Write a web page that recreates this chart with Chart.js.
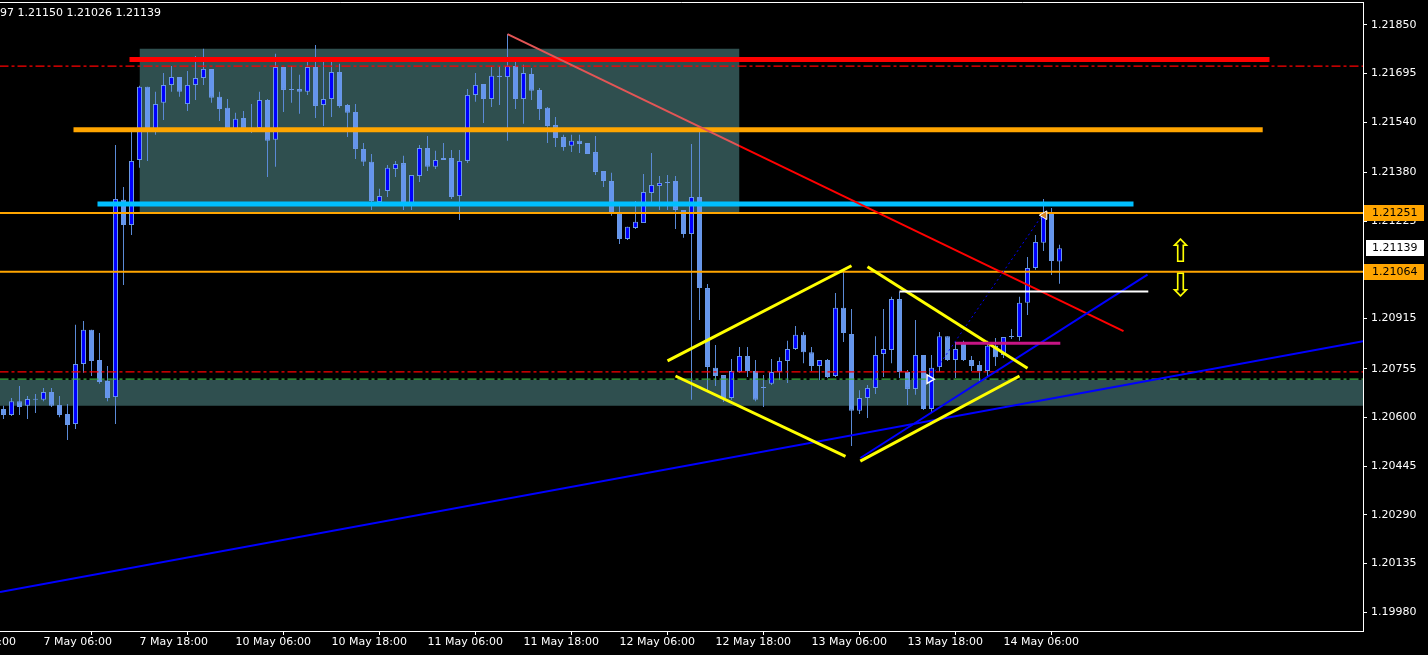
<!DOCTYPE html>
<html>
<head>
<meta charset="utf-8">
<script src="https://cdn.jsdelivr.net/npm/chart.js@4.4.1/dist/chart.umd.min.js"></script>
<style>
  html, body { margin: 0; padding: 0; background: #000; }
  canvas { display: block; }
</style>
</head>
<body>
<canvas id="chartCanva" width="1428" height="655"></canvas>
<script>
// EURUSD H1 candles, bar 0 = 7 May 01:00, last bar = 14 May 13:00
const openPrices = [
  1.20627, 1.20608, 1.20652, 1.20637, 1.20659, 1.20656, 1.20681, 1.20640, 1.20611, 1.20579,
  1.20770, 1.20879, 1.20783, 1.20716, 1.20665, 1.21293, 1.21213, 1.21420, 1.21653, 1.21516,
  1.21602, 1.21659, 1.21684, 1.21598, 1.21659, 1.21681, 1.21710, 1.21621, 1.21586, 1.21519,
  1.21554, 1.21519, 1.21522, 1.21611, 1.21484, 1.21716, 1.21646, 1.21646, 1.21637, 1.21716,
  1.21595, 1.21614, 1.21700, 1.21595, 1.21573, 1.21455, 1.21414, 1.21286, 1.21321, 1.21391,
  1.21410, 1.21280, 1.21369, 1.21458, 1.21398, 1.21420, 1.21426, 1.21305, 1.21417, 1.21627,
  1.21662, 1.21614, 1.21688, 1.21684, 1.21719, 1.21614, 1.21694, 1.21643, 1.21586, 1.21531,
  1.21493, 1.21465, 1.21481, 1.21474, 1.21445, 1.21385, 1.21353, 1.21251, 1.21168, 1.21203,
  1.21219, 1.21315, 1.21337, 1.21347, 1.21353, 1.21261, 1.21184, 1.21302, 1.21012, 1.20758,
  1.20735, 1.20662, 1.20745, 1.20796, 1.20748, 1.20694, 1.20707, 1.20745, 1.20780, 1.20818,
  1.20863, 1.20808, 1.20764, 1.20783, 1.20732, 1.20949, 1.20866, 1.20621, 1.20662, 1.20694,
  1.20802, 1.20815, 1.20977, 1.20745, 1.20691, 1.20799, 1.20627, 1.20761, 1.20859, 1.20783,
  1.20837, 1.20783, 1.20767, 1.20748, 1.20828, 1.20799, 1.20856, 1.20856, 1.20965, 1.21076,
  1.21156, 1.21254, 1.21097
];
const highPrices = [
  1.20637, 1.20662, 1.20700, 1.20668, 1.20675, 1.20694, 1.20694, 1.20668, 1.20643, 1.20895,
  1.20907, 1.20879, 1.20869, 1.20764, 1.21468, 1.21334, 1.21512, 1.21656, 1.21653, 1.21637,
  1.21697, 1.21719, 1.21684, 1.21703, 1.21751, 1.21774, 1.21710, 1.21637, 1.21614, 1.21570,
  1.21576, 1.21598, 1.21637, 1.21614, 1.21758, 1.21716, 1.21719, 1.21691, 1.21748, 1.21786,
  1.21732, 1.21732, 1.21726, 1.21598, 1.21598, 1.21474, 1.21439, 1.21328, 1.21404, 1.21417,
  1.21433, 1.21372, 1.21468, 1.21496, 1.21449, 1.21474, 1.21452, 1.21452, 1.21646, 1.21697,
  1.21662, 1.21716, 1.21719, 1.21821, 1.21735, 1.21723, 1.21713, 1.21649, 1.21589, 1.21557,
  1.21500, 1.21500, 1.21500, 1.21474, 1.21496, 1.21385, 1.21379, 1.21283, 1.21207, 1.21289,
  1.21375, 1.21442, 1.21369, 1.21372, 1.21369, 1.21261, 1.21471, 1.21525, 1.21025, 1.20831,
  1.20735, 1.20786, 1.20824, 1.20824, 1.20783, 1.20735, 1.20786, 1.20792, 1.20844, 1.20891,
  1.20872, 1.20824, 1.20783, 1.20786, 1.20996, 1.21063, 1.20945, 1.20687, 1.20703, 1.20859,
  1.20945, 1.20984, 1.21000, 1.20751, 1.20910, 1.20799, 1.20799, 1.20872, 1.20859, 1.20840,
  1.20844, 1.20796, 1.20780, 1.20844, 1.20853, 1.20856, 1.20882, 1.20984, 1.21111, 1.21181,
  1.21296, 1.21267, 1.21150
];
const lowPrices = [
  1.20595, 1.20605, 1.20608, 1.20595, 1.20614, 1.20652, 1.20633, 1.20601, 1.20528, 1.20563,
  1.20742, 1.20732, 1.20707, 1.20652, 1.20579, 1.21022, 1.21181, 1.21395, 1.21417, 1.21500,
  1.21547, 1.21637, 1.21621, 1.21576, 1.21611, 1.21659, 1.21602, 1.21544, 1.21512, 1.21512,
  1.21519, 1.21506, 1.21516, 1.21366, 1.21398, 1.21573, 1.21602, 1.21567, 1.21627, 1.21554,
  1.21528, 1.21557, 1.21586, 1.21493, 1.21423, 1.21401, 1.21261, 1.21283, 1.21302, 1.21366,
  1.21261, 1.21261, 1.21350, 1.21385, 1.21391, 1.21420, 1.21296, 1.21229, 1.21410, 1.21605,
  1.21538, 1.21589, 1.21595, 1.21481, 1.21582, 1.21535, 1.21611, 1.21547, 1.21474, 1.21461,
  1.21449, 1.21445, 1.21442, 1.21439, 1.21372, 1.21334, 1.21242, 1.21152, 1.21165, 1.21200,
  1.21219, 1.21283, 1.21261, 1.21261, 1.21200, 1.21172, 1.20656, 1.20910, 1.20687, 1.20700,
  1.20649, 1.20656, 1.20742, 1.20729, 1.20652, 1.20633, 1.20703, 1.20719, 1.20710, 1.20815,
  1.20773, 1.20748, 1.20719, 1.20726, 1.20729, 1.20840, 1.20509, 1.20611, 1.20598, 1.20675,
  1.20729, 1.20773, 1.20726, 1.20640, 1.20672, 1.20624, 1.20617, 1.20745, 1.20780, 1.20726,
  1.20780, 1.20748, 1.20710, 1.20729, 1.20764, 1.20789, 1.20850, 1.20844, 1.20926, 1.21070,
  1.21130, 1.21054, 1.21026
];
const closePrices = [
  1.20608, 1.20652, 1.20633, 1.20659, 1.20656, 1.20681, 1.20637, 1.20608, 1.20576, 1.20770,
  1.20879, 1.20780, 1.20713, 1.20662, 1.21296, 1.21213, 1.21417, 1.21653, 1.21516, 1.21598,
  1.21659, 1.21684, 1.21637, 1.21659, 1.21681, 1.21710, 1.21618, 1.21582, 1.21519, 1.21551,
  1.21519, 1.21522, 1.21611, 1.21481, 1.21716, 1.21643, 1.21643, 1.21637, 1.21716, 1.21592,
  1.21614, 1.21700, 1.21592, 1.21570, 1.21455, 1.21414, 1.21289, 1.21305, 1.21395, 1.21407,
  1.21280, 1.21372, 1.21458, 1.21398, 1.21420, 1.21426, 1.21302, 1.21417, 1.21627, 1.21659,
  1.21614, 1.21688, 1.21684, 1.21719, 1.21614, 1.21697, 1.21640, 1.21582, 1.21528, 1.21490,
  1.21461, 1.21481, 1.21471, 1.21439, 1.21382, 1.21353, 1.21248, 1.21168, 1.21207, 1.21223,
  1.21318, 1.21340, 1.21347, 1.21350, 1.21261, 1.21184, 1.21302, 1.21012, 1.20761, 1.20732,
  1.20662, 1.20748, 1.20796, 1.20748, 1.20656, 1.20697, 1.20745, 1.20780, 1.20818, 1.20863,
  1.20808, 1.20764, 1.20783, 1.20729, 1.20949, 1.20869, 1.20621, 1.20662, 1.20694, 1.20799,
  1.20818, 1.20977, 1.20745, 1.20691, 1.20799, 1.20627, 1.20758, 1.20859, 1.20783, 1.20818,
  1.20783, 1.20764, 1.20748, 1.20828, 1.20792, 1.20856, 1.20859, 1.20965, 1.21076, 1.21159,
  1.21254, 1.21098, 1.21139
];

// axis ticks
const xTickBars = [-7, 5, 17, 29, 41, 53, 65, 77, 89, 101, 113, 125];
const xTickLabels = ["6 May 18:00", "7 May 06:00", "7 May 18:00", "10 May 06:00", "10 May 18:00",
  "11 May 06:00", "11 May 18:00", "12 May 06:00", "12 May 18:00", "13 May 06:00",
  "13 May 18:00", "14 May 06:00"];
const yTickValues = [1.21850, 1.21695, 1.21540, 1.21380, 1.21225, 1.21070, 1.20915,
  1.20755, 1.20600, 1.20445, 1.20290, 1.20135, 1.19980];

// drawn objects: bar index range and prices
const topBoxBars = [17, 92];
const topBoxPrices = [1.21774, 1.21254];
const bottomBoxBars = [-5, 175];
const bottomBoxPrices = [1.20719, 1.20637];
const redLevelBars = [15.75, 158.25];
const redLevelPrice = 1.21740;
const orangeLevelBars = [8.75, 157.4];
const orangeLevelPrice = 1.21516;
const cyanLevelBars = [11.75, 141.25];
const cyanLevelPrice = 1.21280;
const dashDotPrices = [1.21719, 1.20745];
const greenDashPrice = 1.20722;
const orangeLinePrices = [1.21251, 1.21064];
const redTrendBars = [63, 140];
const redTrendPrices = [1.21821, 1.20875];
const blueLongBars = [-0.4375, 169.94];
const blueLongPrices = [1.20044, 1.20843];
const blueShortBars = [107.1, 143];
const blueShortPrices = [1.20471, 1.21055];
const blueDotBars = [115.7, 130];
const blueDotPrices = [1.20721, 1.21250];
const yellowTopLeftBars = [83, 106];
const yellowTopLeftPrices = [1.20780, 1.21083];
const yellowTopRightBars = [108, 128];
const yellowTopRightPrices = [1.21080, 1.20757];
const yellowLowLeftBars = [84, 105.25];
const yellowLowLeftPrices = [1.20732, 1.20476];
const yellowLowRightBars = [107.1, 127];
const yellowLowRightPrices = [1.20461, 1.20732];
const whiteLevelBars = [112, 143.1];
const whiteLevelPrice = 1.21001;
const magentaLevelBars = [119, 132.1];
const magentaLevelPrice = 1.20836;
const markLeftTriangle = { bar: 130.1, price: 1.21244 };
const markRightArrow = { bar: 115.75, price: 1.20722 };
const arrowUp = { bar: 147.1, price: 1.21120 };
const arrowDown = { bar: 147.1, price: 1.21012 };

const bullColor = "#0000ff";
const bearColor = "#6495ed";
const wickColor = "#5a8ad6";

function segment(bars, prices, color, width, dash, order) {
    return {
        type: "line",
        data: [{ x: bars[0], y: prices[0] }, { x: bars[1], y: prices[1] }],
        borderColor: color,
        borderWidth: width,
        borderDash: dash || [],
        pointRadius: 0,
        fill: false,
        order: order,
    };
}

function box(bars, prices, color) {
    return {
        type: "line",
        data: [{ x: bars[0], y: prices[0] }, { x: bars[1], y: prices[0] }],
        borderWidth: 0,
        pointRadius: 0,
        backgroundColor: color,
        fill: { value: prices[1] },
        order: 100,
    };
}

// no extra room for labels hanging outside the plot
function noPadding(s) {
    s.paddingLeft = 0;
    s.paddingRight = 0;
    s.paddingTop = 0;
    s.paddingBottom = 0;
}

const last = closePrices.length - 1;

// frame, header text, price tags and the yellow arrows
const overlayPlugin = {
    id: "overlay",
    afterDraw(chart) {
        const { ctx, chartArea, scales } = chart;
        ctx.save();
        ctx.strokeStyle = "#ffffff";
        ctx.lineWidth = 1;
        ctx.beginPath();
        ctx.moveTo(chartArea.left, chartArea.top + 0.5);
        ctx.lineTo(chartArea.right + 0.5, chartArea.top + 0.5);
        ctx.lineTo(chartArea.right + 0.5, chartArea.bottom);
        ctx.stroke();

        ctx.font = "11px 'DejaVu Sans'";
        ctx.textBaseline = "middle";
        ctx.textAlign = "left";
        ctx.fillStyle = "#ffffff";
        const header = openPrices[last].toFixed(5).slice(-2) + " " + highPrices[last].toFixed(5) +
            " " + lowPrices[last].toFixed(5) + " " + closePrices[last].toFixed(5);
        ctx.fillText(header, 0, 13);

        // price tags on the axis
        orangeLinePrices.forEach((p) => {
            const y = Math.round(scales.y.getPixelForValue(p));
            ctx.fillStyle = "#ffa500";
            ctx.fillRect(chartArea.right + 1, y - 8, 60, 16);
            ctx.fillStyle = "#000000";
            ctx.fillText(p.toFixed(5), chartArea.right + 9, y);
        });
        const yc = Math.round(scales.y.getPixelForValue(closePrices[last]));
        ctx.fillStyle = "#ffffff";
        ctx.fillRect(chartArea.right + 3, yc - 8, 58, 16);
        ctx.fillStyle = "#000000";
        ctx.fillText(closePrices[last].toFixed(5), chartArea.right + 9, yc);

        // yellow arrows
        ctx.font = "32px 'DejaVu Sans'";
        ctx.textAlign = "center";
        ctx.fillStyle = "#ffff00";
        ctx.fillText("\u21E7", scales.x.getPixelForValue(arrowUp.bar), scales.y.getPixelForValue(arrowUp.price));
        ctx.fillText("\u21E9", scales.x.getPixelForValue(arrowDown.bar), scales.y.getPixelForValue(arrowDown.price));
        ctx.restore();
    },
};

// red trend line is lighter where it crosses the top box
function redTrendColor(context) {
    const chart = context.chart;
    if (!chart.chartArea) return "#ff0000";
    const stop = chart.scales.x.getPixelForValue(topBoxBars[1]) / chart.width;
    const g = chart.ctx.createLinearGradient(0, 0, chart.width, 0);
    g.addColorStop(0, "#e35555");
    g.addColorStop(stop, "#e35555");
    g.addColorStop(stop, "#ff0000");
    g.addColorStop(1, "#ff0000");
    return g;
}

const redTrend = segment(redTrendBars, redTrendPrices, "#ff0000", 2, null, 8);
redTrend.borderColor = redTrendColor;

new Chart(document.getElementById("chartCanva"), {
    type: "bar",
    data: {
        datasets: [
            box(topBoxBars, topBoxPrices, "#2f4f4f"),
            box(bottomBoxBars, bottomBoxPrices, "#2f4f4f"),
            {
                type: "bar",
                data: lowPrices.map((l, i) => ({ x: i, y: [l, highPrices[i]] })),
                backgroundColor: wickColor,
                barThickness: 1,
                grouped: false,
                inflateAmount: 0,
                order: 90,
            },
            {
                type: "bar",
                data: openPrices.map((o, i) => ({ x: i, y: [o, closePrices[i]] })),
                backgroundColor: openPrices.map((o, i) => (closePrices[i] > o ? bullColor : bearColor)),
                borderColor: "#6a98e6",
                borderWidth: 1,
                borderSkipped: false,
                barThickness: 5,
                minBarLength: 1,
                grouped: false,
                inflateAmount: 0,
                order: 80,
            },
            segment([-5, 175], [dashDotPrices[0], dashDotPrices[0]], "#ff0000", 1.3, [9, 3, 3, 3], 20),
            segment([-5, 175], [dashDotPrices[1], dashDotPrices[1]], "#ff0000", 1.3, [9, 3, 3, 3], 20),
            segment([-5, 175], [greenDashPrice, greenDashPrice], "#3cb043", 1.3, [9, 3, 3, 3], 20),
            segment(redLevelBars, [redLevelPrice, redLevelPrice], "#ff0000", 5, null, 12),
            segment(orangeLevelBars, [orangeLevelPrice, orangeLevelPrice], "#ffa500", 5, null, 12),
            segment(cyanLevelBars, [cyanLevelPrice, cyanLevelPrice], "#00bfff", 5, null, 12),
            segment([-5, 175], [orangeLinePrices[0], orangeLinePrices[0]], "#ffa500", 2, null, 11),
            segment([-5, 175], [orangeLinePrices[1], orangeLinePrices[1]], "#ffa500", 2, null, 11),
            redTrend,
            segment(blueLongBars, blueLongPrices, "#0000ff", 2, null, 7),
            segment(blueShortBars, blueShortPrices, "#0000ff", 2, null, 7),
            segment(blueDotBars, blueDotPrices, "#0000ff", 1, [2, 3], 7),
            segment(yellowTopLeftBars, yellowTopLeftPrices, "#ffff00", 3, null, 6),
            segment(yellowTopRightBars, yellowTopRightPrices, "#ffff00", 3, null, 6),
            segment(yellowLowLeftBars, yellowLowLeftPrices, "#ffff00", 3, null, 6),
            segment(yellowLowRightBars, yellowLowRightPrices, "#ffff00", 3, null, 6),
            segment(whiteLevelBars, [whiteLevelPrice, whiteLevelPrice], "#ffffff", 2, null, 5),
            segment(magentaLevelBars, [magentaLevelPrice, magentaLevelPrice], "#c71585", 3, null, 5),
            {
                type: "line",
                data: [{ x: markLeftTriangle.bar, y: markLeftTriangle.price }],
                showLine: false,
                pointStyle: "triangle",
                rotation: -90,
                pointRadius: 5,
                pointBackgroundColor: "#d2862a",
                pointBorderColor: "#ffffff",
                pointBorderWidth: 1,
                order: 1,
            },
            {
                type: "line",
                data: [{ x: markRightArrow.bar, y: markRightArrow.price }],
                showLine: false,
                pointStyle: "triangle",
                rotation: 90,
                pointRadius: 5,
                pointBackgroundColor: "#2040ff",
                pointBorderColor: "#ffffff",
                pointBorderWidth: 1.5,
                order: 1,
            },
        ],
    },
    options: {
        responsive: false,
        animation: false,
        events: [],
        layout: { autoPadding: false, padding: { top: 2, left: 0, right: 0, bottom: 0 } },
        plugins: { legend: { display: false }, tooltip: { enabled: false } },
        scales: {
            x: {
                type: "linear",
                offset: false,
                min: -0.4375,
                max: 169.9375,
                afterFit: (s) => { s.height = 24; noPadding(s); },
                afterBuildTicks: (s) => { s.ticks = xTickBars.map((v) => ({ value: v })); },
                grid: { drawOnChartArea: false, color: "#ffffff", tickLength: 4 },
                border: { color: "#ffffff", width: 1 },
                ticks: {
                    autoSkip: false,
                    maxRotation: 0,
                    align: "start",
                    padding: 1,
                    color: "#ffffff",
                    font: { family: "DejaVu Sans", size: 11 },
                    callback: (v, i) => xTickLabels[i],
                },
            },
            y: {
                position: "right",
                min: 1.19920,
                max: 1.21923,
                afterFit: (s) => { s.width = 65; noPadding(s); },
                afterBuildTicks: (s) => { s.ticks = yTickValues.map((v) => ({ value: v })); },
                grid: { drawOnChartArea: false, color: "#ffffff", tickLength: 4 },
                border: { color: "#ffffff", width: 1 },
                ticks: {
                    padding: 4,
                    color: "#ffffff",
                    font: { family: "DejaVu Sans", size: 11 },
                    callback: (v) => Number(v).toFixed(5),
                },
            },
        },
    },
    plugins: [overlayPlugin],
});
</script>
</body>
</html>
